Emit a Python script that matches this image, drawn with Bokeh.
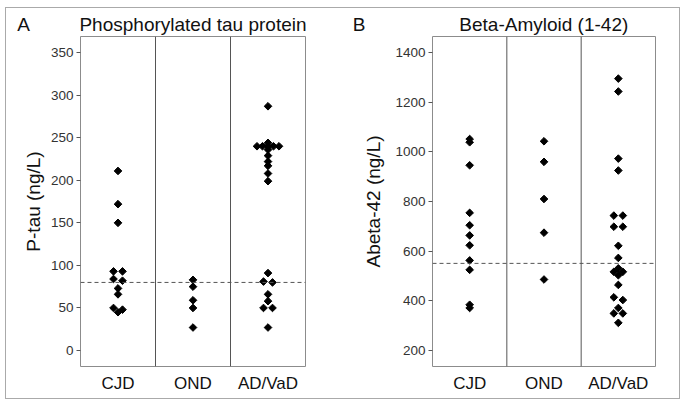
import math
from bokeh.plotting import figure
from bokeh.models import Range1d, FixedTicker, Span, ColumnDataSource, Spacer
from bokeh.layouts import row, column
from bokeh.core.properties import value
from bokeh.embed import file_html
from bokeh.resources import INLINE

categories = ["CJD", "OND", "AD/VaD"]
panel_letters = ["A", "B"]
panel_titles = ["Phosphorylated tau protein", "Beta-Amyloid (1-42)"]

# Panel A: phosphorylated tau (ng/L)
ptau_cjd = [211, 172, 150, 93, 93, 84, 82, 73, 66, 50, 48, 45]
ptau_ond = [83, 75, 59, 50, 27]
ptau_ad = [287, 244, 240, 240, 240, 240, 240, 236, 229, 222, 217, 208, 199,
           91, 81, 80, 66, 58, 50, 50, 27]
ptau_cutoff = 80
ptau_ticks = [0, 50, 100, 150, 200, 250, 300, 350]

# Panel B: beta-amyloid 1-42 (ng/L)
abeta_cjd = [1052, 1039, 946, 754, 704, 663, 623, 562, 524, 383, 370]
abeta_ond = [1043, 960, 810, 674, 485]
abeta_ad = [1296, 1244, 973, 925, 743, 743, 698, 698, 621, 572, 530, 516, 516,
            502, 463, 413, 402, 370, 348, 348, 310]
abeta_cutoff = 550
abeta_ticks = [200, 400, 600, 800, 1000, 1200, 1400]

FONT = "Liberation Sans"
HEAD_H = 27
H = 363
TOP, BOTTOM = 1, 32
WA, WB = 330, 343


def swarm_offsets(vals, tol, step_units, maxw_units):
    order = sorted(range(len(vals)), key=lambda i: -vals[i])
    rows = []
    for i in order:
        if rows and rows[-1][0] - vals[i] <= tol:
            rows[-1][1].append(i)
        else:
            rows.append((vals[i], [i]))
    offs = [0.0] * len(vals)
    for _, idx in rows:
        n = len(idx)
        s = step_units if n <= 2 else min(step_units, maxw_units / (n - 1))
        for k, i in enumerate(idx):
            offs[i] = (k - (n - 1) / 2) * s
    return offs


def make_header(width):
    h = figure(width=width, height=HEAD_H, x_range=Range1d(0, width),
               y_range=Range1d(0, HEAD_H), output_backend="svg",
               toolbar_location=None, x_axis_location=None,
               y_axis_location=None, min_border_left=0, min_border_right=0,
               min_border_top=0, min_border_bottom=0)
    h.outline_line_color = None
    h.xgrid.visible = False
    h.ygrid.visible = False
    letter_x = [10.7, WA + 16.3]
    title_x = [186.5, WA + 207.3]
    base = [11.5, 11.5]
    h.text(x=letter_x, y=base, text=panel_letters, text_font=value(FONT),
           text_font_size=value("19px"), text_baseline=value("alphabetic"),
           text_align=value("left"), text_color="#111111")
    h.text(x=title_x, y=base, text=panel_titles, text_font=value(FONT),
           text_font_size=value("19px"), text_baseline=value("alphabetic"),
           text_align=value("center"), text_color="#111111")
    return h


def make_panel(ylabel, groups, cutoff, ticks, y0, y1,
               width, left, right, tol, label_standoff):
    p = figure(width=width, height=H, x_range=Range1d(0.5, 3.5),
               y_range=Range1d(y0, y1), output_backend="svg",
               toolbar_location=None, min_border_left=left,
               min_border_right=right, min_border_top=TOP,
               min_border_bottom=BOTTOM)
    fw = width - left - right
    px_x = fw / 3.0

    xs, ys = [], []
    for gi, vals in enumerate(groups):
        offs = swarm_offsets(vals, tol, 9 / px_x, 22 / px_x)
        for v, o in zip(vals, offs):
            xs.append(gi + 1 + o)
            ys.append(v)
    src = ColumnDataSource(dict(x=xs, y=ys))
    p.scatter("x", "y", source=src, marker="square", angle=math.pi / 4,
              size=5.4, color="black")

    for loc in (1.5, 2.5):
        p.add_layout(Span(location=loc, dimension="height",
                          line_color="#555555", line_width=1))
    p.add_layout(Span(location=cutoff, dimension="width",
                      line_color="#555555", line_width=1, line_dash="4 3"))

    p.xgrid.visible = False
    p.ygrid.visible = False
    p.outline_line_color = "#8c8c8c"
    p.outline_line_width = 1

    p.xaxis.ticker = FixedTicker(ticks=[1, 2, 3])
    p.xaxis.major_label_overrides = {i + 1: c for i, c in enumerate(categories)}
    p.xaxis.axis_line_color = None
    p.xaxis.major_tick_line_color = None
    p.xaxis.major_tick_out = 0
    p.xaxis.major_tick_in = 0
    p.xaxis.minor_tick_line_color = None
    p.xaxis.major_label_text_font = FONT
    p.xaxis.major_label_text_font_size = "17px"
    p.xaxis.major_label_text_color = "#111111"
    p.xaxis.major_label_standoff = 7

    p.yaxis.ticker = FixedTicker(ticks=ticks)
    p.yaxis.axis_line_color = None
    p.yaxis.major_tick_line_color = "#555555"
    p.yaxis.major_tick_out = 4
    p.yaxis.major_tick_in = 0
    p.yaxis.minor_tick_line_color = None
    p.yaxis.major_label_text_font = FONT
    p.yaxis.major_label_text_font_size = "13.5px"
    p.yaxis.major_label_text_color = "#333333"
    p.yaxis.major_label_standoff = 3
    p.yaxis.axis_label = ylabel
    p.yaxis.axis_label_text_font = FONT
    p.yaxis.axis_label_text_font_size = "19px"
    p.yaxis.axis_label_text_font_style = "normal"
    p.yaxis.axis_label_text_color = "#111111"
    p.yaxis.axis_label_standoff = label_standoff
    return p


header = make_header(WA + WB)
pA = make_panel("P-tau (ng/L)", [ptau_cjd, ptau_ond, ptau_ad], ptau_cutoff,
                ptau_ticks, -18.8, 369, WA, 74, 31, 3, 4)
pB = make_panel("Abeta-42 (ng/L)", [abeta_cjd, abeta_ond, abeta_ad],
                abeta_cutoff, abeta_ticks, 133.7, 1466, WB, 96, 24, 12, 8)

inner = column(header, row(pA, pB, spacing=0), spacing=0,
               styles={"border": "1px solid #aaaaaa"})
layout = column(Spacer(height=7), row(Spacer(width=5), inner, spacing=0),
                spacing=0)

open("out.html", "w").write(file_html(layout, INLINE))
